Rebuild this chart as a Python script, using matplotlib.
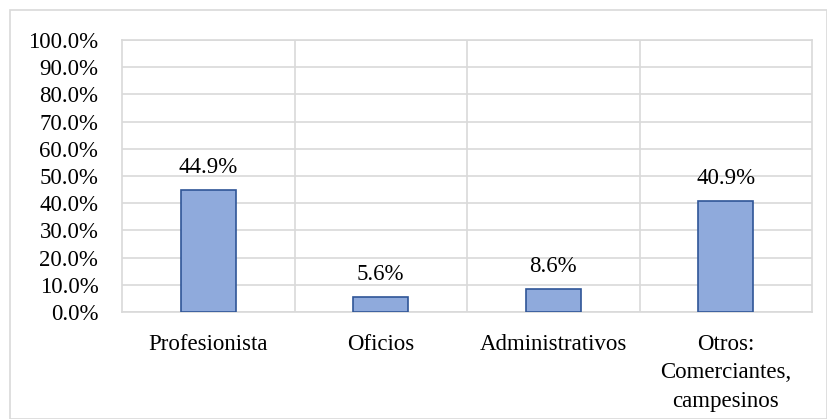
import matplotlib.pyplot as plt
from matplotlib.patches import Rectangle

categories = ["Profesionista", "Oficios", "Administrativos", "Otros:\nComerciantes,\ncampesinos"]
values = [44.9, 5.6, 8.6, 40.9]
yticks = list(range(0, 101, 10))

plt.rcParams["font.family"] = ["Liberation Serif", "DejaVu Serif"]

fig = plt.figure(figsize=(8.27, 4.19), dpi=100)
ax = fig.add_axes([0.1475, 0.2554, 0.8345, 0.6491])

# chart border like Excel
fig.patches.append(Rectangle((10 / 827, 0), 1 - 10 / 827 - 0.5 / 827, 1 - 10 / 419,
                             transform=fig.transFigure, fill=False,
                             edgecolor="#d9d9d9", linewidth=1.2))

x = range(len(categories))
bars = ax.bar(x, values, width=0.32, color="#8faadc", edgecolor="#2f5597", linewidth=1.2, zorder=3)
for b, v in zip(bars, values):
    ax.text(b.get_x() + b.get_width() / 2, v + 4.3, f"{v:.1f}%", ha="center", va="bottom",
            fontsize=16.5, color="#000000")

ax.set_xlim(-0.5, len(categories) - 0.5)
ax.set_ylim(0, 100)
ax.set_yticks(yticks)
ax.set_yticklabels([f"{t:.1f}%" for t in yticks], fontsize=16.5)
ax.set_xticks(list(x))
ax.set_xticklabels(categories, fontsize=16.5, linespacing=1.45)

# horizontal gridlines + vertical category separators
ax.yaxis.grid(True, color="#d9d9d9", linewidth=1.2, zorder=0)
for sep in [0.5, 1.5, 2.5]:
    ax.axvline(sep, color="#d9d9d9", linewidth=1.2, zorder=0)

for s in ax.spines.values():
    s.set_color("#d9d9d9")
    s.set_linewidth(1.2)
ax.tick_params(axis="x", length=0, pad=16)
ax.tick_params(axis="y", length=0, pad=17)

fig.savefig("out.png", dpi=100)
